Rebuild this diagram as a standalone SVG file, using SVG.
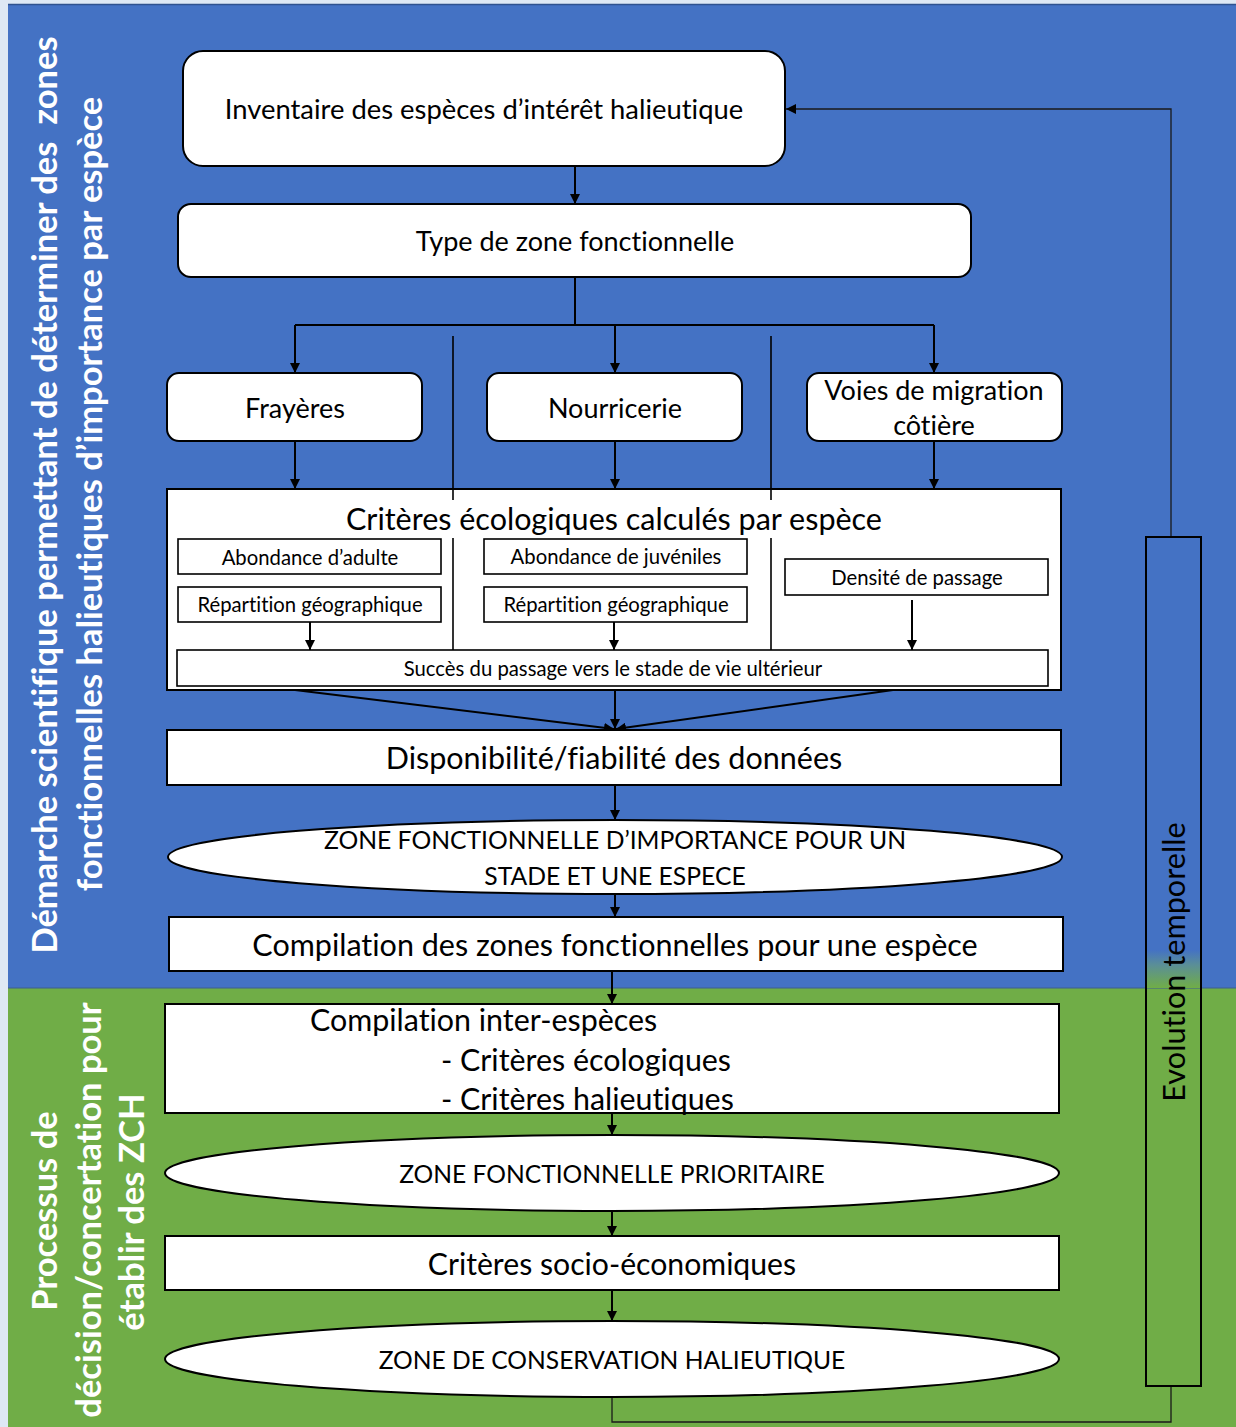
<svg xmlns="http://www.w3.org/2000/svg" width="1236" height="1427" viewBox="0 0 1236 1427">
<defs>
<style>
.t{font-family:Lato,"Open Sans","Liberation Sans",sans-serif;fill:#000;text-anchor:middle;font-variant-ligatures:none}
.side{font-family:Lato,"Open Sans","Liberation Sans",sans-serif;fill:#fff;font-weight:bold;text-anchor:middle;font-size:34.5px;font-variant-ligatures:none}
.box{fill:#fff;stroke:#000;stroke-width:2}
.sub{fill:#fff;stroke:#000;stroke-width:1.6}
.c{fill:none;stroke:#000;stroke-width:2}
.fb{fill:none;stroke:#1a1a1a;stroke-width:1.3}
</style>
<marker id="ah" viewBox="0 0 10 10" refX="10" refY="5" markerWidth="10" markerHeight="10" markerUnits="userSpaceOnUse" orient="auto">
<path d="M0,0 L10,5 L0,10 Z" fill="#000"/>
</marker>
<linearGradient id="blend" x1="0" y1="0" x2="0" y2="1">
<stop offset="0" stop-color="#4472c4"/>
<stop offset="0.4" stop-color="#5b8f96"/>
<stop offset="1" stop-color="#70ad47"/>
</linearGradient>
</defs>

<g id="background">
<rect x="0" y="0" width="1236" height="1427" fill="#dee8f4"/>
<rect x="8" y="4" width="1228" height="984" fill="#4472c4"/>
<line x1="8" y1="4.5" x2="1236" y2="4.5" stroke="#2f528f" stroke-width="1.5"/>
<rect x="8" y="988" width="1228" height="439" fill="#70ad47"/>
<line x1="8" y1="988" x2="1236" y2="988" stroke="#3c5f8f" stroke-width="1"/>
<rect x="1147" y="950" width="53" height="38" fill="url(#blend)"/>
</g>

<g id="label-demarche">
<text class="side" xml:space="preserve" transform="translate(57,495) rotate(-90)">Démarche scientifique permettant de déterminer des  zones</text>
<text class="side" transform="translate(102,494) rotate(-90)">fonctionnelles halieutiques d’importance par espèce</text>
</g>
<g id="label-processus">
<text class="side" transform="translate(57,1211) rotate(-90)">Processus de</text>
<text class="side" transform="translate(101,1210) rotate(-90)">décision/concertation pour</text>
<text class="side" transform="translate(144,1212) rotate(-90)">établir des ZCH</text>
</g>

<g id="connectors">
<path class="c" d="M575,166 V204" marker-end="url(#ah)"/>
<path class="c" d="M575,277 V325 M295,325 H934"/>
<path class="c" d="M295,325 V373" marker-end="url(#ah)"/>
<path class="c" d="M615,325 V373" marker-end="url(#ah)"/>
<path class="c" d="M934,325 V373" marker-end="url(#ah)"/>
<path class="c" d="M295,441 V489" marker-end="url(#ah)"/>
<path class="c" d="M615,441 V489" marker-end="url(#ah)"/>
<path class="c" d="M934,441 V489" marker-end="url(#ah)"/>
<path class="c" d="M295,690 L614,729" marker-end="url(#ah)"/>
<path class="c" d="M615,690 V729" marker-end="url(#ah)"/>
<path class="c" d="M893,690 L616,729" marker-end="url(#ah)"/>
<path class="c" d="M615,785 V820" marker-end="url(#ah)"/>
<path class="c" d="M615,894 V917" marker-end="url(#ah)"/>
<path class="c" d="M612,971 V1004" marker-end="url(#ah)"/>
<path class="c" d="M612,1113 V1135" marker-end="url(#ah)"/>
<path class="c" d="M612,1211 V1236" marker-end="url(#ah)"/>
<path class="c" d="M612,1290 V1321" marker-end="url(#ah)"/>
<path class="fb" d="M1171,1386 V1422 H612 V1397"/>
<path class="fb" d="M1171,537 V109 H786" marker-end="url(#ah)"/>
</g>

<g id="node-inventaire">
<rect class="box" x="183" y="51" width="602" height="115" rx="20"/>
<text class="t" x="484" y="119" font-size="27.4">Inventaire des espèces d’intérêt halieutique</text>
</g>
<g id="node-type">
<rect class="box" x="178" y="204" width="793" height="73" rx="13"/>
<text class="t" x="575" y="251" font-size="27">Type de zone fonctionnelle</text>
</g>
<g id="node-frayeres">
<rect class="box" x="167" y="373" width="255" height="68" rx="12"/>
<text class="t" x="295" y="418" font-size="27">Frayères</text>
</g>
<g id="node-nourricerie">
<rect class="box" x="487" y="373" width="255" height="68" rx="12"/>
<text class="t" x="615" y="418" font-size="27">Nourricerie</text>
</g>
<g id="node-voies">
<rect class="box" x="807" y="373" width="255" height="68" rx="12"/>
<text class="t" x="934" y="400" font-size="27">Voies de migration</text>
<text class="t" x="934" y="435" font-size="27">côtière</text>
</g>

<g id="node-criteres">
<rect class="box" x="167" y="489" width="894" height="201"/>
<line x1="453" y1="336" x2="453" y2="500" stroke="#000" stroke-width="1.6"/>
<line x1="453" y1="538" x2="453" y2="650" stroke="#000" stroke-width="1.6"/>
<line x1="771" y1="336" x2="771" y2="500" stroke="#000" stroke-width="1.6"/>
<line x1="771" y1="538" x2="771" y2="650" stroke="#000" stroke-width="1.6"/>
<text class="t" x="614" y="530" font-size="30.5">Critères écologiques calculés par espèce</text>
<rect class="sub" x="178" y="539" width="263" height="35"/>
<text class="t" x="310" y="565" font-size="20.3">Abondance d’adulte</text>
<rect class="sub" x="178" y="587" width="263" height="35"/>
<text class="t" x="310" y="612" font-size="20.3">Répartition géographique</text>
<rect class="sub" x="484" y="539" width="263" height="35"/>
<text class="t" x="616" y="564" font-size="20.3">Abondance de juvéniles</text>
<rect class="sub" x="484" y="587" width="263" height="35"/>
<text class="t" x="616" y="612" font-size="20.3">Répartition géographique</text>
<rect class="sub" x="785" y="559" width="263" height="36"/>
<text class="t" x="917" y="585" font-size="20.3">Densité de passage</text>
<path class="c" d="M310,622 V650" marker-end="url(#ah)"/>
<path class="c" d="M614,622 V650" marker-end="url(#ah)"/>
<path class="c" d="M912,600 V650" marker-end="url(#ah)"/>
<rect class="sub" x="177" y="650" width="871" height="36"/>
<text class="t" x="613" y="676" font-size="20.3">Succès du passage vers le stade de vie ultérieur</text>
</g>

<g id="node-disponibilite">
<rect class="box" x="167" y="730" width="894" height="55"/>
<text class="t" x="614" y="769" font-size="30.5">Disponibilité/fiabilité des données</text>
</g>
<g id="node-zone-stade">
<ellipse class="box" cx="615" cy="857" rx="447" ry="37"/>
<text class="t" x="615" y="849" font-size="24.7">ZONE FONCTIONNELLE D’IMPORTANCE POUR UN</text>
<text class="t" x="615" y="885" font-size="24.7">STADE ET UNE ESPECE</text>
</g>
<g id="node-compilation-espece">
<rect class="box" x="169" y="917" width="894" height="54"/>
<text class="t" x="615" y="956" font-size="30.5">Compilation des zones fonctionnelles pour une espèce</text>
</g>
<g id="node-inter-especes">
<rect class="box" x="165" y="1004" width="894" height="109"/>
<text class="t" x="310" y="1031" font-size="30.4" style="text-anchor:start">Compilation inter-espèces</text>
<text class="t" x="441" y="1071" font-size="30.4" style="text-anchor:start">- Critères écologiques</text>
<text class="t" x="441" y="1110" font-size="30.4" style="text-anchor:start">- Critères halieutiques</text>
</g>
<g id="node-zone-prioritaire">
<ellipse class="box" cx="612" cy="1173" rx="447" ry="38"/>
<text class="t" x="612" y="1183" font-size="24.6">ZONE FONCTIONNELLE PRIORITAIRE</text>
</g>
<g id="node-socio">
<rect class="box" x="165" y="1236" width="894" height="54"/>
<text class="t" x="612" y="1275" font-size="30.2">Critères socio-économiques</text>
</g>
<g id="node-zch">
<ellipse class="box" cx="612" cy="1359" rx="447" ry="38"/>
<text class="t" x="612" y="1369" font-size="24.6">ZONE DE CONSERVATION HALIEUTIQUE</text>
</g>
<g id="node-evolution">
<rect x="1146" y="537" width="55" height="849" fill="none" stroke="#000" stroke-width="2"/>
<text class="t" transform="translate(1185,962) rotate(-90)" font-size="30.7">Evolution temporelle</text>
</g>
</svg>
